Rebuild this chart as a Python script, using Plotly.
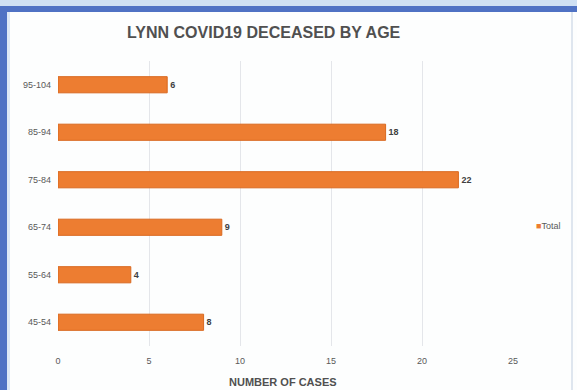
import plotly.graph_objects as go

categories = ["45-54", "55-64", "65-74", "75-84", "85-94", "95-104"]
values = [8, 4, 9, 22, 18, 6]
x_ticks = [0, 5, 10, 15, 20, 25]
series_name = "Total"

W, H = 577, 390
L, R, T, B = 58, 64, 61, 44
pw, ph = W - L - R, H - T - B

def px(x):
    return (x - L) / pw

def py(y):
    return (H - B - y) / ph

fig = go.Figure()
fig.add_trace(go.Bar(
    y=categories, x=values, orientation="h", name=series_name, showlegend=False,
    marker=dict(color="#ED7D31", line=dict(color="#d9681f", width=1)),
    text=["<b>%d</b>" % v for v in values], textposition="outside",
    textfont=dict(family="Arial", size=9, color="#404040"),
    cliponaxis=False,
))

fig.update_layout(
    width=W, height=H,
    margin=dict(l=L, r=R, t=T, b=B, autoexpand=False),
    paper_bgcolor="#fdfefe", plot_bgcolor="#fdfefe",
    bargap=0.66,
    showlegend=False,
    font=dict(family="Arial", color="#595959"),
    xaxis=dict(range=[0, 25], tickvals=x_ticks, showgrid=True,
               gridcolor="#e4e6ea", gridwidth=1, zeroline=False,
               showline=False, ticks="", tickfont=dict(size=9, color="#595959"),
               ticklabelstandoff=8),
    yaxis=dict(showgrid=False, showline=False, ticks="",
               tickfont=dict(size=9, color="#595959"), ticklabelstandoff=6),
    annotations=[
        dict(text="<b>LYNN COVID19 DECEASED BY AGE</b>", xref="paper", yref="paper",
             x=px(264), y=py(33), xanchor="center", yanchor="middle", showarrow=False,
             font=dict(family="Arial", size=16, color="#505050")),
        dict(text="<b>NUMBER OF CASES</b>", xref="paper", yref="paper",
             x=px(283), y=py(382), xanchor="center", yanchor="middle", showarrow=False,
             font=dict(family="Arial", size=11, color="#505050")),
        dict(text="<span style='color:#ED7D31'>■</span>" + series_name, xref="paper", yref="paper",
             x=px(534), y=py(226), xanchor="left", yanchor="middle", showarrow=False,
             font=dict(family="Arial", size=9, color="#595959")),
    ],
    shapes=[
        dict(type="rect", xref="paper", yref="paper", x0=px(0), x1=px(W), y0=py(0), y1=py(6),
             fillcolor="#cfe0f3", line=dict(width=0), layer="above"),
        dict(type="rect", xref="paper", yref="paper", x0=px(0), x1=px(W), y0=py(6), y1=py(12),
             fillcolor="#4f72c4", line=dict(width=0), layer="above"),
        dict(type="rect", xref="paper", yref="paper", x0=px(0), x1=px(7), y0=py(6), y1=py(H),
             fillcolor="#4f72c4", line=dict(width=0), layer="above"),
        dict(type="rect", xref="paper", yref="paper", x0=px(7), x1=px(10), y0=py(12), y1=py(H),
             fillcolor="#dde8f5", line=dict(width=0), layer="above"),
        dict(type="line", xref="paper", yref="paper", x0=px(572), x1=px(572), y0=py(12), y1=py(H),
             line=dict(color="#dfe6ef", width=2), layer="above"),
    ],
)

fig.write_html("out.html")
